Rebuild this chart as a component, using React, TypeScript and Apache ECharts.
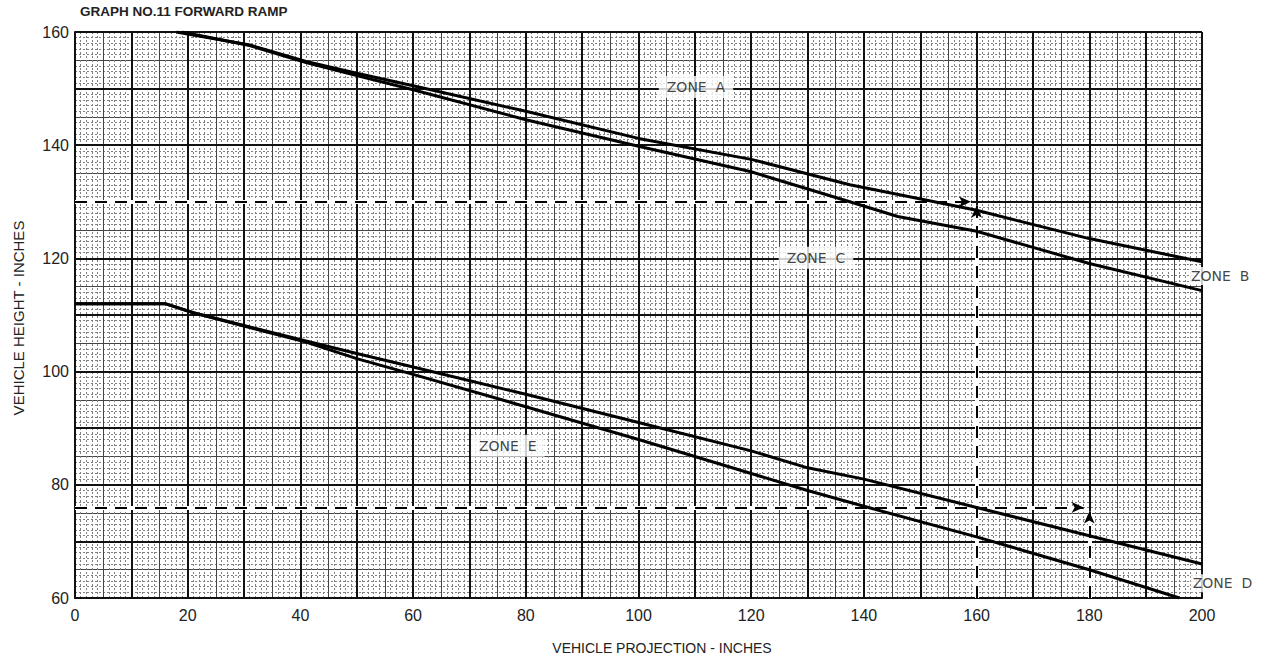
import React, { useEffect, useRef } from "react";
import * as echarts from "echarts";

const xTickStep = 20;
const yTickStep = 20;

// Upper pair of curves (zones A / B / C)
const lineB_upper: [number, number][] = [
  [18, 160], [31, 157.7], [41, 154.8], [50, 152.7], [60, 150.5], [80, 146], [100, 141.2],
  [120, 137.5], [137.5, 133], [160, 128.5], [180, 123.5], [200, 119.4],
];
const lineB_lower: [number, number][] = [
  [19, 160], [31, 157.6], [41, 154.6], [50, 152.3], [60, 149.8], [80, 144.5], [100, 139.8],
  [120, 135.3], [137.5, 130], [146, 127.4], [160, 124.8], [180, 119.1], [200, 114.3],
];
// Lower pair of curves (zones D / E)
const lineD_upper: [number, number][] = [
  [0, 112], [16, 112], [21, 110.4], [41, 105.4], [50, 103.2], [60, 100.8], [80, 96],
  [100, 91], [120, 86], [130, 83], [140, 81], [160, 76], [180, 71], [200, 66],
];
const lineD_lower: [number, number][] = [
  [0, 112], [16, 112], [21, 110.4], [41, 105.2], [50, 102.3], [60, 99.5], [80, 93.8],
  [100, 88], [120, 82], [130, 79], [140, 76.2], [160, 70.8], [180, 65], [196, 60],
];
// Dashed reading guides [start, end]
const guideLines: [[number, number], [number, number]][] = [
  [[0, 130], [159, 130]],
  [[160, 60], [160, 129.3]],
  [[0, 76], [179, 76]],
  [[180, 60], [180, 75.3]],
];
// Zone labels: [x, y, text, anchor]
const zoneLabels: [number, number, string, string][] = [
  [110.2, 150.3, "ZONE  A", "center"],
  [131.5, 120.1, "ZONE  C", "center"],
  [76.8, 86.9, "ZONE  E", "center"],
  [197.6, 116.9, "ZONE  B", "left"],
  [197.9, 62.6, "ZONE  D", "left"],
];

const FONT = "Liberation Sans, Arial, sans-serif";

export default function App() {
  const ref = useRef<HTMLDivElement>(null);
  useEffect(() => {
    if (!ref.current) return;
    const chart = echarts.init(ref.current, undefined, { renderer: "svg" });
    const mkAxisFine = (min: number, max: number) => ({
      type: "value",
      min,
      max,
      interval: 5,
      axisLine: { show: false },
      axisTick: { show: false },
      axisLabel: { show: false },
      splitLine: { show: true, lineStyle: { color: "#444", width: 1 } },
      minorTick: { show: false, splitNumber: 5 },
      minorSplitLine: { show: true, lineStyle: { color: "#808080", width: 1, type: [2, 2] } },
      z: 0,
    });
    const mkAxisMain = (min: number, max: number, step: number) => ({
      type: "value",
      min,
      max,
      interval: 10,
      axisLine: { show: true, onZero: false, lineStyle: { color: "#111", width: 2 } },
      axisTick: { show: false },
      axisLabel: {
        fontSize: 16,
        fontFamily: FONT,
        color: "#222",
        formatter: (v: number) => (v % step === 0 ? String(v) : ""),
      },
      splitLine: { show: true, lineStyle: { color: "#111", width: 2 } },
      z: 1,
    });
    const xMain: any = mkAxisMain(0, 200, xTickStep);
    xMain.axisLabel.margin = 9;
    const yMain: any = mkAxisMain(60, 160, yTickStep);
    yMain.axisLabel.margin = 6;
    const lineSeries = (data: [number, number][]) => ({
      type: "line",
      xAxisIndex: 1,
      yAxisIndex: 1,
      data,
      symbol: "none",
      lineStyle: { color: "#000", width: 3 },
      z: 5,
      silent: true,
    });
    const guideData = guideLines.map(([a, b]) => [{ coord: a }, { coord: b }]);
    chart.setOption({
      animation: false,
      backgroundColor: "#fff",
      grid: { left: 75, right: 63, top: 32, bottom: 63 },
      xAxis: [{ ...mkAxisFine(0, 200), position: "bottom" }, { ...xMain, position: "bottom" }],
      yAxis: [{ ...mkAxisFine(60, 160), position: "left" }, { ...yMain, position: "left" }],
      series: [
        {
          type: "line",
          xAxisIndex: 1,
          yAxisIndex: 1,
          data: [],
          z: 3,
          markLine: {
            silent: true,
            symbol: ["none", "none"],
            label: { show: false },
            lineStyle: { color: "#fff", width: 4, type: "solid" },
            data: guideData,
          },
        },
        {
          type: "line",
          xAxisIndex: 1,
          yAxisIndex: 1,
          data: [],
          z: 4,
          markLine: {
            silent: true,
            symbol: ["none", "arrow"],
            symbolSize: [8, 12],
            label: { show: false },
            lineStyle: { color: "#000", width: 2, type: [12, 8] },
            data: guideData,
          },
        },
        lineSeries(lineB_upper),
        lineSeries(lineB_lower),
        lineSeries(lineD_upper),
        lineSeries(lineD_lower),
        {
          type: "scatter",
          xAxisIndex: 1,
          yAxisIndex: 1,
          clip: false,
          symbolSize: 1,
          itemStyle: { color: "rgba(0,0,0,0)" },
          z: 10,
          data: zoneLabels.map(([x, y, t, anchor]) => ({
            value: [x, y],
            label: {
              show: true,
              formatter: t,
              position: anchor === "left" ? "right" : "inside",
              distance: 0,
              fontFamily: "DejaVu Sans, sans-serif",
              fontSize: 14,
              color: "#111",
              backgroundColor: "#fff",
              padding: anchor === "left" ? [2, 2] : [4, 8],
            },
          })),
        },
      ],
      graphic: [
        {
          type: "text",
          left: 80,
          top: 4,
          style: { text: "GRAPH NO.11 FORWARD RAMP", font: `bold 13.5px ${FONT}`, fill: "#222" },
        },
        {
          type: "text",
          x: 662,
          y: 648,
          style: {
            text: "VEHICLE PROJECTION - INCHES",
            font: `14px ${FONT}`,
            fill: "#222",
            align: "center",
            verticalAlign: "middle",
          },
        },
        {
          type: "text",
          x: 18,
          y: 318,
          rotation: Math.PI / 2,
          style: {
            text: "VEHICLE HEIGHT - INCHES",
            font: `15px ${FONT}`,
            fill: "#222",
            align: "center",
            verticalAlign: "middle",
          },
        },
      ],
    });
    return () => chart.dispose();
  }, []);
  return (
    <div
      ref={ref}
      style={{ position: "fixed", left: 0, top: 0, width: 1265, height: 661 }}
    />
  );
}
